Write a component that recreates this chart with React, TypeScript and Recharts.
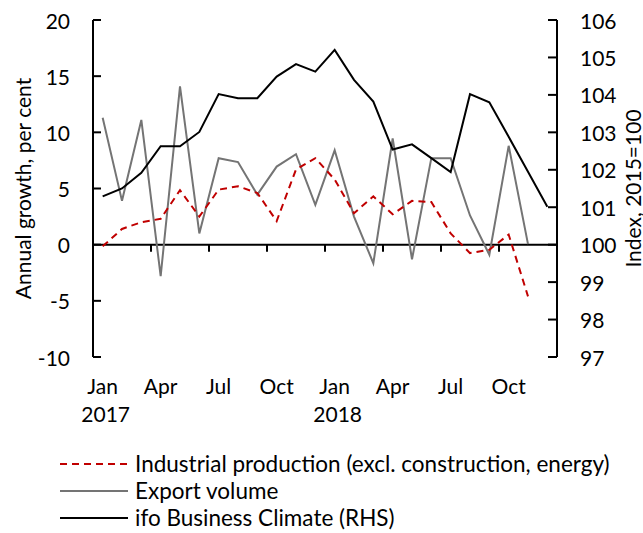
import React from 'react';
import {
  LineChart,
  Line,
  XAxis,
  YAxis,
  ReferenceLine,
  Legend,
} from 'recharts';

const FONT = 'Lato, "Open Sans", sans-serif';

// Jan 2017 .. Dec 2018
const months = [
  'Jan', 'Feb', 'Mar', 'Apr', 'May', 'Jun', 'Jul', 'Aug', 'Sep', 'Oct', 'Nov', 'Dec',
  'Jan', 'Feb', 'Mar', 'Apr', 'May', 'Jun', 'Jul', 'Aug', 'Sep', 'Oct', 'Nov', 'Dec',
];
const years = ['2017', '2018'];

const industrial = [
  -0.15, 1.4, 2.0, 2.3, 4.85, 2.5, 4.9, 5.2, 4.6, 2.1, 6.7, 7.7,
  5.8, 2.8, 4.3, 2.7, 3.9, 3.8, 1.0, -0.75, -0.45, 0.9, -4.6, null,
];
const exports = [
  11.3, 3.9, 11.1, -2.8, 14.1, 1.0, 7.7, 7.35, 4.45, 6.95, 8.05, 3.55,
  8.4, 2.5, -1.65, 9.45, -1.3, 7.7, 7.7, 2.6, -0.9, 8.8, 0.05, null,
];
const ifo = [
  101.29, 101.5, 101.92, 102.63, 102.63, 103.01, 104.02, 103.91, 103.91, 104.49, 104.82, 104.62,
  105.2, 104.4, 103.82, 102.54, 102.68, 102.31, 101.94, 104.02, 103.8, 102.88, 101.95, 101.01,
];

const leftTicks = [-10, -5, 0, 5, 10, 15, 20];
const rightTicks = [97, 98, 99, 100, 101, 102, 103, 104, 105, 106];
const labelMonths = [0, 3, 6, 9, 12, 15, 18, 21];
const quarterBounds = [2.5, 5.5, 8.5, 11.5, 14.5, 17.5, 20.5];
const X_MIN = -0.5;
const X_MAX = 23.5;

const TICK_GAP = 23; // distance from axis line to tick label
const TICK_LEN = 8;

const series = [
  { key: 'industrial', name: 'Industrial production (excl. construction, energy)', color: '#c00000', dash: '7 5' },
  { key: 'exports', name: 'Export volume', color: '#747474', dash: undefined },
  { key: 'ifo', name: 'ifo Business Climate (RHS)', color: '#000000', dash: undefined },
];

const data = months.map((m, i) => ({
  i,
  industrial: industrial[i],
  exports: exports[i],
  ifo: ifo[i],
}));

const MonthTick = ({ x, y, payload }: any) => {
  const i = payload.value;
  return (
    <g>
      <text x={x} y={y} dy={37} textAnchor="middle" fill="#000" fontSize={21} fontFamily={FONT}>
        {months[i]}
      </text>
      {i % 12 === 0 && (
        <text x={x + 3} y={y} dy={65} textAnchor="middle" fill="#000" fontSize={21} fontFamily={FONT}>
          {years[i / 12]}
        </text>
      )}
    </g>
  );
};

// value-axis tick: label plus an inward tick stub
const ValueTick = ({ x, y, payload, side }: any) => {
  const left = side === 'left';
  const axisX = left ? x + TICK_GAP : x - TICK_GAP;
  const innerX = left ? axisX + TICK_LEN : axisX - TICK_LEN - 1;
  return (
    <g>
      <line x1={axisX} y1={y} x2={innerX} y2={y} stroke="#000" strokeWidth={2} />
      <text
        x={x}
        y={y}
        textAnchor={left ? 'end' : 'start'}
        dominantBaseline="central"
        fill="#000"
        fontSize={21}
        fontFamily={FONT}
      >
        {payload.value}
      </text>
    </g>
  );
};

// zero line with quarter-boundary tick marks hanging below it
const ZeroAxis = (props: any) => {
  const { x1, x2, y1 } = props;
  const toPx = (v: number) => x1 + ((v - X_MIN) / (X_MAX - X_MIN)) * (x2 - x1);
  return (
    <g>
      <line x1={x1} y1={y1} x2={x2} y2={y1} stroke="#000" strokeWidth={2} />
      {quarterBounds.map((b) => (
        <line key={b} x1={toPx(b)} y1={y1} x2={toPx(b)} y2={y1 + 7} stroke="#000" strokeWidth={2} />
      ))}
    </g>
  );
};

const axisTitle = (text: string, dx: number) => (props: any) => {
  const { x, y, height } = props.viewBox;
  const cx = x + dx;
  const cy = y + height / 2;
  return (
    <text
      x={cx}
      y={cy}
      transform={`rotate(-90 ${cx} ${cy})`}
      textAnchor="middle"
      dominantBaseline="central"
      fill="#000"
      fontSize={21}
      fontFamily={FONT}
    >
      {text}
    </text>
  );
};

const renderLegend = () => (
  <div style={{ fontFamily: FONT, fontSize: 22.5, color: '#000' }}>
    {series.map((s) => (
      <div key={s.key} style={{ display: 'flex', alignItems: 'center', height: 27 }}>
        <svg width={68} height={4}>
          <line x1={0} y1={2} x2={68} y2={2} stroke={s.color} strokeWidth={2} strokeDasharray={s.dash} />
        </svg>
        <span style={{ marginLeft: 7, whiteSpace: 'nowrap' }}>{s.name}</span>
      </div>
    ))}
  </div>
);

export default function App() {
  return (
    <div style={{ width: 643, height: 533 }}>
      <style>{'body{margin:0}'}</style>
      <LineChart width={643} height={533} data={data} margin={{ top: 20, right: 0, bottom: 106, left: 0 }}>
        <XAxis
          dataKey="i"
          type="number"
          domain={[X_MIN, X_MAX]}
          ticks={labelMonths}
          tick={<MonthTick />}
          axisLine={false}
          tickLine={false}
          tickSize={0}
          tickMargin={0}
          height={70}
          interval={0}
        />
        <YAxis
          yAxisId="left"
          domain={[-10, 20]}
          ticks={leftTicks}
          width={93}
          tickSize={0}
          tickMargin={TICK_GAP}
          axisLine={{ stroke: '#000', strokeWidth: 2 }}
          tickLine={false}
          tick={<ValueTick side="left" />}
          interval={0}
          label={{ content: axisTitle('Annual growth, per cent', 22) }}
        />
        <YAxis
          yAxisId="right"
          orientation="right"
          domain={[97, 106]}
          ticks={rightTicks}
          width={86}
          tickSize={0}
          tickMargin={TICK_GAP}
          axisLine={{ stroke: '#000', strokeWidth: 2 }}
          tickLine={false}
          tick={<ValueTick side="right" />}
          interval={0}
          label={{ content: axisTitle('Index, 2015=100', 75) }}
        />
        <ReferenceLine yAxisId="left" y={0} stroke="#000" strokeWidth={2} shape={ZeroAxis} />
        <Line
          yAxisId="left"
          dataKey="exports"
          name="Export volume"
          stroke="#747474"
          strokeWidth={2}
          dot={false}
          type="linear"
          isAnimationActive={false}
        />
        <Line
          yAxisId="left"
          dataKey="industrial"
          name="Industrial production (excl. construction, energy)"
          stroke="#c00000"
          strokeWidth={2}
          strokeDasharray="7 5"
          dot={false}
          type="linear"
          isAnimationActive={false}
        />
        <Line
          yAxisId="right"
          dataKey="ifo"
          name="ifo Business Climate (RHS)"
          stroke="#000"
          strokeWidth={2}
          dot={false}
          type="linear"
          isAnimationActive={false}
        />
        <Legend
          layout="vertical"
          align="center"
          verticalAlign="middle"
          content={renderLegend}
          wrapperStyle={{ top: 450, left: 60, width: 583 }}
        />
      </LineChart>
    </div>
  );
}
